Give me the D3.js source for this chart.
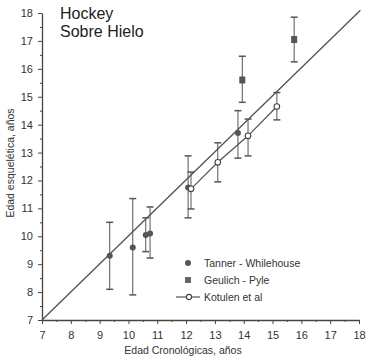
<!DOCTYPE html>
<html>
<head>
<meta charset="utf-8">
<script src="https://cdn.jsdelivr.net/npm/d3@7"></script>
<style>
  body { margin: 0; background: #fff; }
  svg { display: block; font-family: "Liberation Sans", Arial, sans-serif; }
</style>
</head>
<body>
<svg id="chart"></svg>
<script>
// datos
const ticks = [7, 8, 9, 10, 11, 12, 13, 14, 15, 16, 17, 18];

const tannerX = [9.35, 10.15, 10.6, 10.75, 12.07, 13.8];
const tannerY = [9.3, 9.6, 10.05, 10.1, 11.75, 13.7];
const tannerLo = [8.1, 7.9, 9.45, 9.22, 10.66, 12.8];
const tannerHi = [10.5, 11.35, 10.66, 11.05, 12.88, 14.5];

const geulichX = [13.95, 15.75];
const geulichY = [15.6, 17.05];
const geulichLo = [14.8, 16.25];
const geulichHi = [16.45, 17.85];

const kotulenX = [12.17, 13.1, 14.15, 15.15];
const kotulenY = [11.7, 12.65, 13.6, 14.65];
const kotulenLo = [10.98, 11.95, 12.88, 14.17];
const kotulenHi = [12.3, 13.35, 14.2, 15.15];

const legendLabels = ["Tanner - Whilehouse", "Geulich - Pyle", "Kotulen et al"];

const width = 377, height = 362;
const ink = "#444";

const svg = d3.select("#chart").attr("width", width).attr("height", height);

const x = d3.scaleLinear().domain([7, 18]).range([42, 359]);
const y = d3.scaleLinear().domain([7, 18]).range([320, 13]);

const zip = (xs, ys, lo, hi) => xs.map((v, i) => ({ x: v, y: ys[i], lo: lo[i], hi: hi[i] }));
const tanner = zip(tannerX, tannerY, tannerLo, tannerHi);
const geulich = zip(geulichX, geulichY, geulichLo, geulichHi);
const kotulen = zip(kotulenX, kotulenY, kotulenLo, kotulenHi);

// ejes
const halves = d3.range(7.5, 18, 1);

svg.append("g")
  .attr("transform", "translate(42,0)")
  .call(d3.axisLeft(y).tickValues(halves).tickSize(2).tickFormat(""))
  .call(g => g.select(".domain").remove())
  .selectAll("line").attr("stroke", ink);

const yAxis = svg.append("g")
  .attr("transform", "translate(42,0)")
  .call(d3.axisLeft(y).tickValues(ticks).tickSize(4).tickSizeOuter(0).tickPadding(5));
yAxis.select(".domain").attr("stroke", ink).attr("stroke-width", 1.3);
yAxis.selectAll("line").attr("stroke", ink);
yAxis.selectAll("text").attr("fill", "#333").style("font-size", "11px");

svg.append("g")
  .attr("transform", "translate(0,320)")
  .call(d3.axisBottom(x).tickValues(halves).tickSize(2).tickFormat(""))
  .call(g => g.select(".domain").remove())
  .selectAll("line").attr("stroke", ink);

const xAxis = svg.append("g")
  .attr("transform", "translate(0,320)")
  .call(d3.axisBottom(x).tickValues(ticks).tickSize(4).tickSizeOuter(0).tickPadding(7));
xAxis.select(".domain").attr("stroke", "#3f4a3f").attr("stroke-width", 1.6);
xAxis.selectAll("line").attr("stroke", ink);
xAxis.selectAll("text").attr("fill", "#333").style("font-size", "11px");

svg.append("text")
  .attr("x", 183).attr("y", 354)
  .attr("text-anchor", "middle")
  .attr("fill", "#333")
  .style("font-size", "10.5px")
  .text("Edad Cronológicas, años");

svg.append("text")
  .attr("transform", "translate(14,163) rotate(-90)")
  .attr("text-anchor", "middle")
  .attr("fill", "#333")
  .style("font-size", "10.5px")
  .text("Edad esquelética, años");

// titulo
svg.append("text").attr("x", 60).attr("y", 19)
  .attr("fill", "#222").style("font-size", "16px").text("Hockey");
svg.append("text").attr("x", 60).attr("y", 37)
  .attr("fill", "#222").style("font-size", "16px").text("Sobre Hielo");

// linea de identidad
svg.append("line")
  .attr("x1", x(7)).attr("y1", y(7))
  .attr("x2", x(18.05)).attr("y2", y(18.1))
  .attr("stroke", "#4d554d").attr("stroke-width", 1.3);

// linea Kotulen
svg.append("path")
  .datum(kotulen)
  .attr("fill", "none")
  .attr("stroke", "#4d554d").attr("stroke-width", 1.2)
  .attr("d", d3.line().x(d => x(d.x)).y(d => y(d.y)));

// barras de error
function errorBars(data) {
  const g = svg.append("g").attr("stroke", "#555").attr("stroke-width", 1);
  data.forEach(d => {
    g.append("line").attr("x1", x(d.x)).attr("x2", x(d.x)).attr("y1", y(d.lo)).attr("y2", y(d.hi));
    g.append("line").attr("x1", x(d.x) - 3.5).attr("x2", x(d.x) + 3.5).attr("y1", y(d.lo)).attr("y2", y(d.lo)).attr("stroke-width", 1.5);
    g.append("line").attr("x1", x(d.x) - 3.5).attr("x2", x(d.x) + 3.5).attr("y1", y(d.hi)).attr("y2", y(d.hi)).attr("stroke-width", 1.5);
  });
}
errorBars(tanner);
errorBars(geulich);
errorBars(kotulen);

svg.append("g").selectAll("circle")
  .data(tanner).join("circle")
  .attr("cx", d => x(d.x)).attr("cy", d => y(d.y)).attr("r", 3)
  .attr("fill", "#555");

svg.append("g").selectAll("rect")
  .data(geulich).join("rect")
  .attr("x", d => x(d.x) - 3).attr("y", d => y(d.y) - 3.5)
  .attr("width", 6).attr("height", 7)
  .attr("fill", "#555");

svg.append("g").selectAll("circle")
  .data(kotulen).join("circle")
  .attr("cx", d => x(d.x)).attr("cy", d => y(d.y)).attr("r", 2.8)
  .attr("fill", "#fff").attr("stroke", "#444").attr("stroke-width", 1.1);

// leyenda
const legend = svg.append("g");
const rows = [263, 280, 297];
legend.append("circle").attr("cx", 188).attr("cy", rows[0]).attr("r", 3).attr("fill", "#555");
legend.append("rect").attr("x", 185).attr("y", rows[1] - 3).attr("width", 6).attr("height", 6).attr("fill", "#666");
legend.append("line").attr("x1", 176).attr("x2", 200).attr("y1", rows[2]).attr("y2", rows[2])
  .attr("stroke", "#555").attr("stroke-width", 1.2);
legend.append("circle").attr("cx", 189).attr("cy", rows[2]).attr("r", 2.6)
  .attr("fill", "#fff").attr("stroke", "#444").attr("stroke-width", 1.1);

legend.selectAll("text")
  .data(legendLabels).join("text")
  .attr("x", 204).attr("y", (d, i) => rows[i] + 4)
  .attr("fill", "#333")
  .style("font-size", "10.5px")
  .text(d => d);
</script>
</body>
</html>
